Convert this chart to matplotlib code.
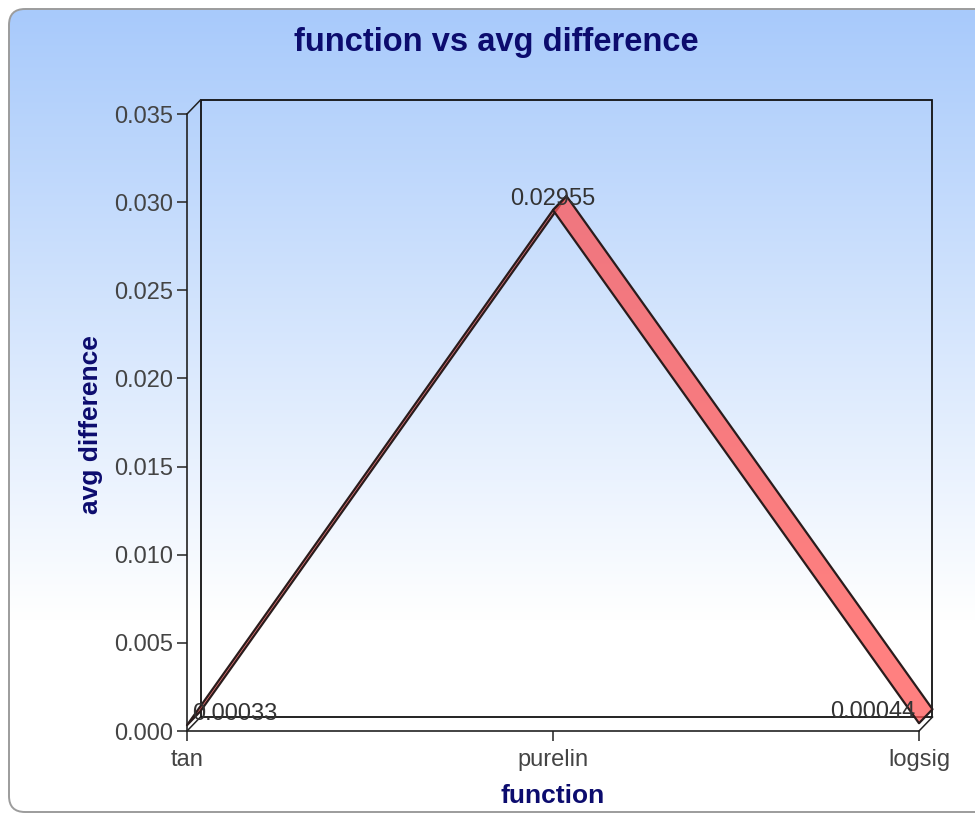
import numpy as np
import matplotlib
matplotlib.use("Agg")
import matplotlib.pyplot as plt
from matplotlib.patches import FancyBboxPatch, Polygon, Rectangle
from matplotlib.lines import Line2D

plt.rcParams['font.family'] = ['Liberation Sans', 'DejaVu Sans']

# ---- data ----
categories = ["tan", "purelin", "logsig"]
avg_difference = [0.00033, 0.02955, 0.00044]
value_labels = ["0.00033", "0.02955", "0.00044"]
y_ticks = [0.000, 0.005, 0.010, 0.015, 0.020, 0.025, 0.030, 0.035]

title_text = "function vs avg difference"
x_label = "function"
y_label = "avg difference"

NAVY = "#0c0c6e"
TICK_GREY = "#444444"
W, H = 975, 815

fig = plt.figure(figsize=(W / 100, H / 100), dpi=100)
fig.patch.set_facecolor("white")

# ---- rounded panel with vertical blue-to-white gradient ----
bg = fig.add_axes([0, 0, 1, 1], zorder=0)
bg.set_xlim(0, W)
bg.set_ylim(H, 0)
bg.axis("off")
panel = FancyBboxPatch((9, 9), W + 20, H - 12,
                       boxstyle="round,pad=0,rounding_size=16",
                       fc="none", ec="#9c9c9c", lw=1.4, zorder=3)
bg.add_patch(panel)
rows = np.linspace(0, H, 400)
top = np.array([168, 202, 251]) / 255.0
frac = np.clip((rows - 10) / 610.0, 0, 1)[:, None]
grad = top * (1 - frac) + np.ones(3) * frac
img = bg.imshow(grad[:, None, :], extent=(0, W, H, 0), aspect="auto",
                interpolation="bilinear", zorder=1)
img.set_clip_path(panel)

# ---- front plane of the 3D plot ----
left_px, right_px, bottom_px, top_px = 187, 919, 731, 114
ax = fig.add_axes([left_px / W, (H - bottom_px) / H,
                   (right_px - left_px) / W, (bottom_px - top_px) / H], zorder=2)
ax.set_facecolor("none")
x = np.arange(len(categories))
ax.set_xlim(0, len(categories) - 1)
ax.set_ylim(0, 0.035)

# depth offset of the back wall, converted to data units
depth_px = (13.5, 14.0)
dx = depth_px[0] / (right_px - left_px) * (len(categories) - 1)
dy = depth_px[1] / (bottom_px - top_px) * 0.035

for s in ("top", "right"):
    ax.spines[s].set_visible(False)
for s in ("left", "bottom"):
    ax.spines[s].set_color("#222222")
    ax.spines[s].set_linewidth(1.2)

ax.set_yticks(y_ticks)
ax.set_yticklabels([f"{v:.3f}" for v in y_ticks])
ax.set_xticks(x)
ax.set_xticklabels(categories)
ax.tick_params(axis="both", direction="out", length=7, width=1.2,
               color="#333333", labelcolor=TICK_GREY, labelsize=17)
ax.tick_params(axis="y", pad=3)
ax.tick_params(axis="x", pad=6)

# back wall and connecting edges
ax.add_patch(Rectangle((dx, dy), len(categories) - 1, 0.035, fill=False,
                       ec="#111111", lw=1.3, clip_on=False, zorder=1))
for (x0, y0) in [(0, 0), (0, 0.035), (len(categories) - 1, 0)]:
    ax.add_line(Line2D([x0, x0 + dx], [y0, y0 + dy], color="#222222",
                       lw=1.1, clip_on=False, zorder=1))

# 3D ribbon line
fill_rgba = (1.0, 85 / 255, 85 / 255, 0.75)
for i in range(len(x) - 1):
    x0, x1 = x[i], x[i + 1]
    y0, y1 = avg_difference[i], avg_difference[i + 1]
    poly = Polygon([(x0, y0), (x1, y1), (x1 + dx, y1 + dy), (x0 + dx, y0 + dy)],
                   closed=True, fc=fill_rgba, ec="#2a1c1c", lw=1.6,
                   clip_on=False, zorder=3, joinstyle="round")
    ax.add_patch(poly)

# value labels
offsets = [(5, 0, "left"), (0, 0, "center"), (-4, 0, "right")]
for xi, v, txt, (ox, oy, ha) in zip(x, avg_difference, value_labels, offsets):
    ax.annotate(txt, (xi, v), xytext=(ox, oy), textcoords="offset pixels",
                ha=ha, va="bottom", fontsize=17, color="#333333",
                annotation_clip=False, zorder=4)

# titles
ax.set_ylabel(y_label, fontsize=19, fontweight="bold", color=NAVY)
ax.yaxis.set_label_coords((91 - left_px) / (right_px - left_px),
                          (bottom_px - 425) / (bottom_px - top_px))
ax.yaxis.label.set_va("center")
ax.set_xlabel(x_label, fontsize=19, fontweight="bold", color=NAVY)
ax.xaxis.set_label_coords(0.5, (bottom_px - 803) / (bottom_px - top_px))
ax.xaxis.label.set_va("baseline")

fig.text(496 / W, 1 - 51 / H, title_text, ha="center", va="baseline",
         fontsize=23.5, fontweight="bold", color=NAVY, zorder=5)

fig.savefig("out.png", dpi=100)
